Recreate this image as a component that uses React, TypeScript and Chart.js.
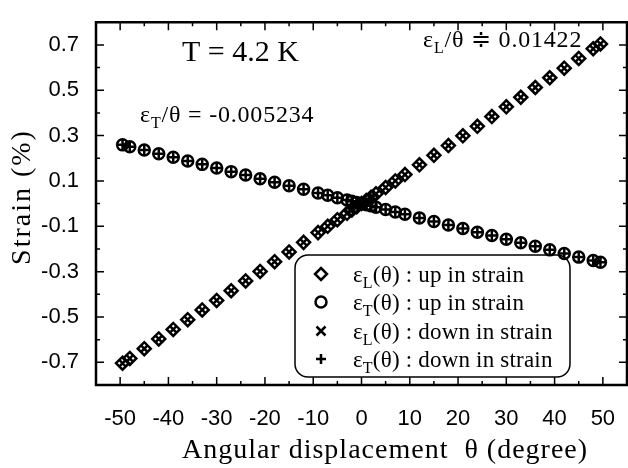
import React, { useEffect, useRef } from 'react';
import { Chart, registerables } from 'chart.js';

Chart.register(...registerables);

// Angular displacement θ (degree)
const thetaDeg = [-49.5, -48, -45, -42, -39, -36, -33, -30, -27, -24, -21, -18, -15, -12, -9, -7, -5, -3, -2, -1, 0, 1, 2, 3, 5, 7, 9, 12, 15, 18, 21, 24, 27, 30, 33, 36, 39, 42, 45, 48, 49.5];

// εL(θ) : up in strain (%)
const epsLUp = [-0.704, -0.683, -0.640, -0.597, -0.555, -0.512, -0.469, -0.427, -0.384, -0.341, -0.299, -0.256, -0.213, -0.171, -0.128, -0.100, -0.071, -0.043, -0.028, -0.014, 0.000, 0.014, 0.028, 0.043, 0.071, 0.100, 0.128, 0.171, 0.213, 0.256, 0.299, 0.341, 0.384, 0.427, 0.469, 0.512, 0.555, 0.597, 0.640, 0.683, 0.704];
// εT(θ) : up in strain (%)
const epsTUp = [0.259, 0.251, 0.236, 0.220, 0.204, 0.188, 0.173, 0.157, 0.141, 0.126, 0.110, 0.094, 0.079, 0.063, 0.047, 0.037, 0.026, 0.016, 0.010, 0.005, 0.000, -0.005, -0.010, -0.016, -0.026, -0.037, -0.047, -0.063, -0.079, -0.094, -0.110, -0.126, -0.141, -0.157, -0.173, -0.188, -0.204, -0.220, -0.236, -0.251, -0.259];
// εL(θ) : down in strain (%)
const epsLDown = [-0.704, -0.683, -0.640, -0.597, -0.555, -0.512, -0.469, -0.427, -0.384, -0.341, -0.299, -0.256, -0.213, -0.171, -0.128, -0.100, -0.071, -0.043, -0.028, -0.014, 0.000, 0.014, 0.028, 0.043, 0.071, 0.100, 0.128, 0.171, 0.213, 0.256, 0.299, 0.341, 0.384, 0.427, 0.469, 0.512, 0.555, 0.597, 0.640, 0.683, 0.704];
// εT(θ) : down in strain (%)
const epsTDown = [0.259, 0.251, 0.236, 0.220, 0.204, 0.188, 0.173, 0.157, 0.141, 0.126, 0.110, 0.094, 0.079, 0.063, 0.047, 0.037, 0.026, 0.016, 0.010, 0.005, 0.000, -0.005, -0.010, -0.016, -0.026, -0.037, -0.047, -0.063, -0.079, -0.094, -0.110, -0.126, -0.141, -0.157, -0.173, -0.188, -0.204, -0.220, -0.236, -0.251, -0.259];

const xMin = -55;
const xMax = 55;
const yMin = -0.8;
const yMax = 0.8;
const xMajorTicks = [-50, -40, -30, -20, -10, 0, 10, 20, 30, 40, 50];
const xMinorTicks = [-55, -45, -35, -25, -15, -5, 5, 15, 25, 35, 45, 55];
const yMajorTicks = [-0.7, -0.5, -0.3, -0.1, 0.1, 0.3, 0.5, 0.7];
const yMinorTicks = [-0.8, -0.6, -0.4, -0.2, 0, 0.2, 0.4, 0.6, 0.8];

const legendLabels = [
  { sym: 'diamond', main: 'ε', sub: 'L', rest: '(θ) : up in strain' },
  { sym: 'circle', main: 'ε', sub: 'T', rest: '(θ) : up in strain' },
  { sym: 'x', main: 'ε', sub: 'L', rest: '(θ) : down in strain' },
  { sym: 'plus', main: 'ε', sub: 'T', rest: '(θ) : down in strain' },
];

const SERIF = '"Liberation Serif", "Times New Roman", serif';
const SANS = '"Liberation Sans", Arial, sans-serif';

type Seg = { t: string; sub?: boolean };

function drawRich(ctx: CanvasRenderingContext2D, segs: Seg[], x: number, y: number, size: number, spacing = 0) {
  let cx = x;
  for (const s of segs) {
    const fs = s.sub ? Math.round(size * 0.68) : size;
    ctx.font = `${fs}px ${SERIF}`;
    (ctx as any).letterSpacing = `${spacing}px`;
    ctx.fillText(s.t, cx, s.sub ? y + size * 0.26 : y);
    cx += ctx.measureText(s.t).width;
  }
  (ctx as any).letterSpacing = '0px';
}

const framePlugin = {
  id: 'frameAndText',
  beforeDatasetsDraw(chart: any) {
    const ctx: CanvasRenderingContext2D = chart.ctx;
    // legend box
    ctx.save();
    const lx = 295, ly = 255, lw = 275, lh = 122, r = 13;
    ctx.beginPath();
    ctx.moveTo(lx + r, ly);
    ctx.lineTo(lx + lw - r, ly);
    ctx.arcTo(lx + lw, ly, lx + lw, ly + r, r);
    ctx.lineTo(lx + lw, ly + lh - r);
    ctx.arcTo(lx + lw, ly + lh, lx + lw - r, ly + lh, r);
    ctx.lineTo(lx + r, ly + lh);
    ctx.arcTo(lx, ly + lh, lx, ly + lh - r, r);
    ctx.lineTo(lx, ly + r);
    ctx.arcTo(lx, ly, lx + r, ly, r);
    ctx.closePath();
    ctx.fillStyle = '#fff';
    ctx.fill();
    ctx.lineWidth = 1.5;
    ctx.strokeStyle = '#000';
    ctx.stroke();

    const rowY = [274, 302, 331, 359];
    const symX = 321;
    ctx.lineWidth = 2.5;
    legendLabels.forEach((it, i) => {
      const y = rowY[i];
      ctx.beginPath();
      if (it.sym === 'diamond') {
        ctx.moveTo(symX, y - 6);
        ctx.lineTo(symX + 6, y);
        ctx.lineTo(symX, y + 6);
        ctx.lineTo(symX - 6, y);
        ctx.closePath();
      } else if (it.sym === 'circle') {
        ctx.arc(symX, y, 5.5, 0, Math.PI * 2);
      } else if (it.sym === 'x') {
        ctx.moveTo(symX - 4.5, y - 4.5);
        ctx.lineTo(symX + 4.5, y + 4.5);
        ctx.moveTo(symX + 4.5, y - 4.5);
        ctx.lineTo(symX - 4.5, y + 4.5);
      } else {
        ctx.moveTo(symX - 5, y);
        ctx.lineTo(symX + 5, y);
        ctx.moveTo(symX, y - 5);
        ctx.lineTo(symX, y + 5);
      }
      ctx.stroke();
      ctx.fillStyle = '#000';
      ctx.textBaseline = 'alphabetic';
      ctx.textAlign = 'left';
      drawRich(ctx, [{ t: it.main }, { t: it.sub, sub: true }, { t: it.rest }], 353, y + 8, 23, 0.2);
    });
    ctx.restore();
  },
  afterDraw(chart: any) {
    const ctx: CanvasRenderingContext2D = chart.ctx;
    const { left, right, top, bottom } = chart.chartArea;
    const xs = chart.scales.x;
    const ys = chart.scales.y;
    ctx.save();
    ctx.strokeStyle = '#000';
    ctx.lineWidth = 2.5;
    ctx.beginPath();
    ctx.rect(left, top, right - left, bottom - top);
    ctx.stroke();
    ctx.lineWidth = 1.5;
    ctx.beginPath();
    const tick = (vals: number[], len: number) => {
      vals.forEach((v) => {
        const px = xs.getPixelForValue(v);
        ctx.moveTo(px, bottom);
        ctx.lineTo(px, bottom - len);
        ctx.moveTo(px, top);
        ctx.lineTo(px, top + len);
      });
    };
    const ytick = (vals: number[], len: number) => {
      vals.forEach((v) => {
        const py = ys.getPixelForValue(v);
        ctx.moveTo(left, py);
        ctx.lineTo(left + len, py);
        ctx.moveTo(right, py);
        ctx.lineTo(right - len, py);
      });
    };
    tick(xMajorTicks, 8);
    tick(xMinorTicks, 4);
    ytick(yMajorTicks, 8);
    ytick(yMinorTicks, 4);
    ctx.stroke();

    // annotations
    ctx.fillStyle = '#000';
    ctx.textAlign = 'left';
    ctx.textBaseline = 'alphabetic';
    drawRich(ctx, [{ t: 'T = 4.2 K' }], 182, 61, 30, 0);
    drawRich(ctx, [{ t: 'ε' }, { t: 'T', sub: true }, { t: '/θ = -0.005234' }], 140, 122, 24, 0.8);
    drawRich(ctx, [{ t: 'ε' }, { t: 'L', sub: true }, { t: '/θ ≑ 0.01422' }], 423, 47, 24, 0.8);

    // axis titles
    ctx.font = `28px ${SERIF}`;
    (ctx as any).letterSpacing = '1px';
    ctx.textAlign = 'center';
    ctx.fillText('Angular displacement  θ (degree)', 385, 458);
    ctx.save();
    ctx.translate(30, 197);
    ctx.rotate(-Math.PI / 2);
    ctx.textAlign = 'center';
    ctx.textBaseline = 'alphabetic';
    (ctx as any).letterSpacing = '2px';
    ctx.fillText('Strain (%)', 0, 0);
    ctx.restore();
    (ctx as any).letterSpacing = '0px';
    ctx.restore();
  },
};

export default function App() {
  const ref = useRef<HTMLCanvasElement | null>(null);
  useEffect(() => {
    if (!ref.current) return;
    const mk = (ys: number[]) => thetaDeg.map((x, i) => ({ x, y: ys[i] }));
    const chart = new Chart(ref.current, {
      type: 'scatter',
      data: {
        datasets: [
          {
            label: 'εL(θ) : down in strain',
            data: mk(epsLDown),
            pointStyle: 'crossRot',
            pointRadius: 5,
            borderColor: '#000',
            backgroundColor: 'rgba(0,0,0,0)',
            pointBorderWidth: 2.5,
          },
          {
            label: 'εT(θ) : down in strain',
            data: mk(epsTDown),
            pointStyle: 'cross',
            pointRadius: 5.5,
            borderColor: '#000',
            backgroundColor: 'rgba(0,0,0,0)',
            pointBorderWidth: 2.5,
          },
          {
            label: 'εL(θ) : up in strain',
            data: mk(epsLUp),
            pointStyle: 'rectRot',
            pointRadius: 6.5,
            borderColor: '#000',
            backgroundColor: 'rgba(0,0,0,0)',
            pointBorderWidth: 2.5,
          },
          {
            label: 'εT(θ) : up in strain',
            data: mk(epsTUp),
            pointStyle: 'circle',
            pointRadius: 5.5,
            borderColor: '#000',
            backgroundColor: 'rgba(0,0,0,0)',
            pointBorderWidth: 2.5,
          },
        ],
      },
      options: {
        animation: false,
        responsive: false,
        devicePixelRatio: 1,
        layout: { padding: { top: 12, right: 8, left: 0, bottom: 0 } },
        plugins: { legend: { display: false }, tooltip: { enabled: false }, title: { display: false } },
        scales: {
          x: {
            type: 'linear',
            min: xMin,
            max: xMax,
            grid: { display: false },
            border: { display: false },
            afterFit: (s: any) => { s.height = 83; },
            ticks: {
              stepSize: 5,
              autoSkip: false,
              maxRotation: 0,
              padding: 13,
              color: '#000',
              font: { family: SANS, size: 22 },
              callback: (v: any) => (Math.round(v) % 10 === 0 ? String(Math.round(v)) : ''),
            },
          },
          y: {
            type: 'linear',
            min: yMin,
            max: yMax,
            grid: { display: false },
            border: { display: false },
            afterFit: (s: any) => { s.width = 96; },
            ticks: {
              stepSize: 0.1,
              autoSkip: false,
              padding: 9,
              color: '#000',
              font: { family: SANS, size: 22 },
              callback: (v: any) => {
                const k = Math.round(Number(v) * 10);
                return Math.abs(k) % 2 === 1 ? (k / 10).toFixed(1) : '';
              },
            },
          },
        },
      },
      plugins: [framePlugin],
    } as any);
    return () => chart.destroy();
  }, []);
  return (
    <div style={{ position: 'absolute', left: 0, top: 0, width: 628, height: 468, overflow: 'hidden', background: '#fff' }}>
      <canvas ref={ref} width={640} height={468} style={{ display: 'block', width: 640, height: 468 }} />
    </div>
  );
}
